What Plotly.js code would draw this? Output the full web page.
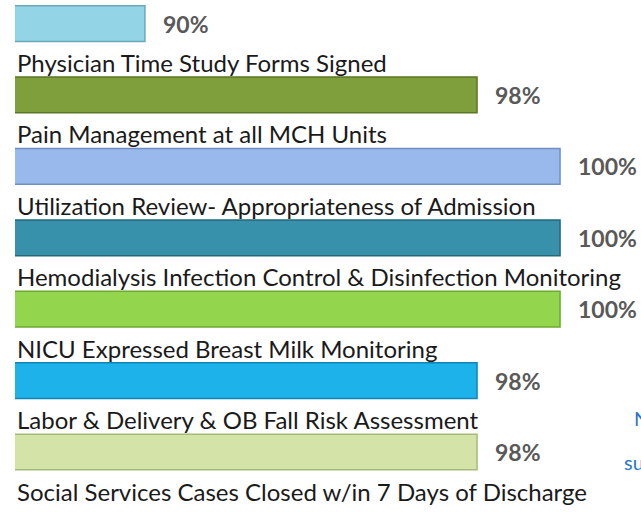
<!DOCTYPE html>
<html>
<head>
<meta charset="utf-8">
<script src="https://cdn.plot.ly/plotly-3.0.1.min.js"></script>
<style>html,body{margin:0;padding:0;background:#fff;}#chart{width:641px;height:512px;}</style>
</head>
<body>
<div id="chart"></div>
<script>
var categories = [
  "Physician Time Study Forms Signed",
  "Pain Management at all MCH Units",
  "Utilization Review- Appropriateness of Admission",
  "Hemodialysis Infection Control & Disinfection Monitoring",
  "NICU Expressed Breast Milk Monitoring",
  "Labor & Delivery & OB Fall Risk Assessment",
  "Social Services Cases Closed w/in 7 Days of Discharge"
];
var values = [90, 98, 100, 100, 100, 98, 98];
var valueLabels = ["90%", "98%", "100%", "100%", "100%", "98%", "98%"];
var barColors = ["#93d4e7", "#7f9e3c", "#99b9ec", "#3791aa", "#93d64d", "#1db3ea", "#d4e4a8"];
var edgeColors = ["#6aa9bb", "#5b7629", "#6f8fc2", "#23687b", "#6cab31", "#0f84b5", "#a6ba78"];

var trace = {
  type: "bar",
  orientation: "h",
  y: categories,
  x: values,
  width: 0.5,
  marker: {color: barColors, line: {color: edgeColors, width: 1.5}},
  hoverinfo: "none"
};

var annotations = [];
for (var i = 0; i < categories.length; i++) {
  annotations.push({
    xref: "paper", yref: "y", x: 0, y: categories[i],
    xanchor: "left", yanchor: "middle", xshift: 0, yshift: -39,
    text: categories[i], showarrow: false,
    font: {family: "Lato, 'Open Sans', sans-serif", size: 24, color: "#1a1a1a"}
  });
  annotations.push({
    xref: "x", yref: "y", x: values[i], y: categories[i],
    xanchor: "left", yanchor: "middle", xshift: 16,
    text: "<b>" + valueLabels[i] + "</b>", showarrow: false,
    font: {family: "Lato, 'Open Sans', sans-serif", size: 23, color: "#595959"}
  });
}
annotations.push({xref: "paper", yref: "paper", x: 1, y: 1 - 418/512, xanchor: "left", yanchor: "middle", xshift: -9,
  text: "N", showarrow: false, font: {family: "Lato, sans-serif", size: 20, color: "#2a75c4"}});
annotations.push({xref: "paper", yref: "paper", x: 1, y: 1 - 462/512, xanchor: "left", yanchor: "middle", xshift: -19,
  text: "su", showarrow: false, font: {family: "Lato, sans-serif", size: 20, color: "#2a75c4"}});

var layout = {
  width: 641, height: 512,
  margin: {l: 15, r: 0, t: 0, b: 0},
  paper_bgcolor: "#ffffff", plot_bgcolor: "#ffffff",
  showlegend: false,
  xaxis: {range: [86.87, 101.95], visible: false, fixedrange: true},
  yaxis: {type: "category", range: [6.84, -0.33], visible: false, fixedrange: true},
  annotations: annotations
};

Plotly.newPlot("chart", [trace], layout, {displayModeBar: false, staticPlot: true});
</script>
</body>
</html>
